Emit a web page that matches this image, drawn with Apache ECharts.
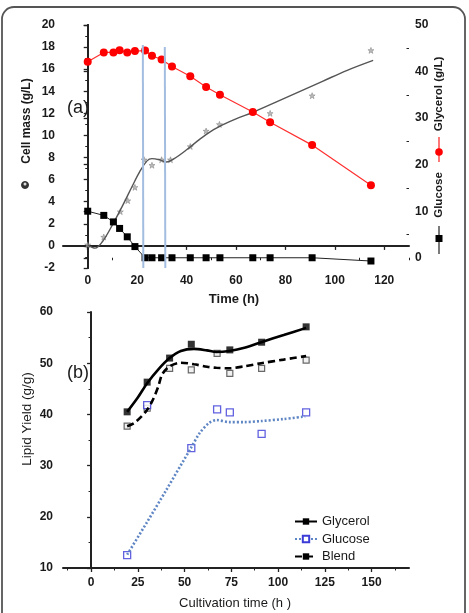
<!DOCTYPE html>
<html>
<head>
<meta charset="utf-8">
<script src="https://cdn.jsdelivr.net/npm/echarts@6/dist/echarts.min.js"></script>
<style>
html, body { margin: 0; padding: 0; background: #fff; }
#chartmain { width: 469px; height: 613px; }
</style>
</head>
<body>
<div id="chartmain"></div>
<script>
// (a) substrate and cell mass vs time
var time = [0, 6.5, 10.4, 12.9, 16, 19.1, 23.2, 26, 29.9, 34.1, 41.5, 47.9, 53.5, 66.8, 73.8, 90.8, 114.6];
var glycerol = [42.1, 44.1, 44.1, 44.6, 44.1, 44.4, 44.5, 43.4, 42.6, 41.1, 39.0, 36.7, 35.0, 31.3, 29.1, 24.2, 15.6];
var glucose = [10.0, 9.1, 7.7, 6.3, 4.5, 2.4, 0, 0, 0, 0, 0, 0, 0, 0, 0, 0, -0.7];

var cellTime = [0, 6.5, 13.2, 16.2, 19.1, 22.8, 26, 29.9, 33.5, 41.5, 47.9, 53.3, 73.8, 90.8, 114.6];
var cellMass = [0.1, 0.8, 3.1, 4.1, 5.3, 7.8, 7.3, 7.8, 7.8, 9.0, 10.4, 11.0, 12.0, 13.6, 17.7];

// fitted curve for cell mass
var fitTime = [0, 3, 6, 10, 14, 18, 21, 24, 26, 29, 32, 35, 40, 45, 50, 55, 60, 67, 75, 85, 95, 105, 115.5];
var fitMass = [0.1, -0.2, 0.4, 1.9, 3.6, 5.4, 6.7, 7.7, 7.9, 7.8, 7.6, 7.9, 8.7, 9.6, 10.4, 11.0, 11.5, 12.1, 12.9, 13.9, 14.9, 15.9, 16.8];

// blue phase markers
var phaseTime = [22.5, 31.4];
var phaseTop = [18.2, 18.0];

// (b) lipid yield
var yieldTime = [19.3, 30, 42, 53.6, 67.4, 74.2, 91.2, 115];
var glycerolYield = [40.5, 46.3, 51.0, 53.7, null, 52.6, 54.1, 57.1];
var glucoseYield = [12.5, 41.8, null, 33.4, 41.0, 40.4, 36.2, 40.4];
var blendYield = [37.7, 41.2, 49.0, 48.7, 51.9, 48.0, 49.0, 50.6];

var glycerolFitTime = [19.3, 25, 30, 36, 42, 48, 55, 62, 67, 74, 82, 91, 103, 115];
var glycerolFit = [40.5, 43.3, 46.1, 48.8, 51.0, 52.4, 52.8, 52.5, 52.2, 52.4, 53.0, 54.1, 55.5, 56.9];
var blendFitTime = [19.3, 23, 27, 30, 33, 36, 38, 42, 48, 55, 62, 67, 74, 82, 91, 103, 115];
var blendFit = [37.7, 38.3, 39.6, 40.9, 42.8, 45.5, 47.8, 49.4, 50.1, 49.8, 49.3, 49.1, 49.0, 49.4, 50.0, 50.7, 51.4];
var glucoseFitTime = [19.3, 30, 40, 53.5, 58, 63, 67, 74, 82, 91, 103, 114.5];
var glucoseFit = [12.6, 19.0, 25.1, 33.5, 36.3, 38.3, 38.9, 38.5, 38.5, 38.7, 39.1, 39.6];

// tick labels
var xTicksA = [0, 20, 40, 60, 80, 100, 120];
var xMinorA = [10, 30, 50, 70, 90, 110, 130];
var rTicksA = [0, 10, 20, 30, 40, 50];
var rMinorA = [5, 15, 25, 35, 45];
var xTicksB = [0, 25, 50, 75, 100, 125, 150];
var xMinorB = [-12.5, 12.5, 37.5, 62.5, 87.5, 112.5, 137.5, 162.5];

function pairs(xs, ys) {
    var out = [];
    for (var i = 0; i < xs.length; i++) {
        if (ys[i] !== null) out.push([xs[i], ys[i]]);
    }
    return out;
}

var axisColor = '#222';
var labelStyle = { color: '#1a1a1a', fontSize: 12, fontWeight: 'bold' };
var star = 'path://M12,1 L15,9 L23,9 L16.5,14 L19,22 L12,17 L5,22 L7.5,14 L1,9 L9,9 Z';
var font = 'Liberation Sans';

var phaseLines = [];
for (var i = 0; i < phaseTime.length; i++) {
    phaseLines.push([{ coord: [phaseTime[i], -2] }, { coord: [phaseTime[i] - 0.2, phaseTop[i]] }]);
}

function label(x, y, text, size, weight, rotate) {
    return {
        type: 'text', x: x, y: y, rotation: rotate ? Math.PI / 2 : 0,
        style: { text: text, fontSize: size, fontWeight: weight, fill: '#1a1a1a', align: 'center', verticalAlign: 'middle', fontFamily: font }
    };
}

var option = {
    animation: false,
    textStyle: { fontFamily: 'Liberation Sans, Arial, sans-serif' },
    grid: [
        { left: 63, top: 25, width: 346, height: 243 },
        { left: 63, top: 312, width: 346, height: 256 }
    ],
    xAxis: [
        {
            gridIndex: 0, type: 'value', position: 'bottom', min: -10, max: 130,
            splitLine: { show: false },
            axisLine: { lineStyle: { color: axisColor, width: 2 } },
            axisTick: { customValues: xTicksA, length: 4, lineStyle: { color: axisColor, width: 1.3 } },
            axisLabel: Object.assign({ customValues: xTicksA, margin: 7 }, labelStyle)
        },
        {
            gridIndex: 0, type: 'value', position: 'bottom', min: -10, max: 130,
            splitLine: { show: false }, axisLine: { show: false }, axisLabel: { show: false },
            axisTick: { customValues: xMinorA, length: 2.5, lineStyle: { color: axisColor } }
        },
        {
            gridIndex: 1, type: 'value', position: 'bottom', min: -15, max: 170,
            splitLine: { show: false },
            axisLine: { lineStyle: { color: axisColor, width: 2 } },
            axisTick: { customValues: xTicksB, length: 4, lineStyle: { color: axisColor, width: 1.3 } },
            axisLabel: Object.assign({ customValues: xTicksB, margin: 9 }, labelStyle)
        },
        {
            gridIndex: 1, type: 'value', position: 'bottom', min: -15, max: 170,
            splitLine: { show: false }, axisLine: { show: false }, axisLabel: { show: false },
            axisTick: { customValues: xMinorB, length: 2.5, lineStyle: { color: axisColor } }
        }
    ],
    yAxis: [
        {
            gridIndex: 0, type: 'value', position: 'left', min: -2, max: 20, interval: 2,
            splitLine: { show: false },
            axisLine: { show: true, lineStyle: { color: axisColor, width: 2 } },
            axisTick: { show: true, length: 4, lineStyle: { color: axisColor, width: 1.3 } },
            minorTick: { show: true, splitNumber: 2, length: 2.5, lineStyle: { color: axisColor } },
            axisLabel: Object.assign({ margin: 8 }, labelStyle)
        },
        {
            gridIndex: 0, type: 'value', position: 'right', min: -2.2, max: 50,
            splitLine: { show: false },
            axisLine: { show: true, lineStyle: { color: axisColor, width: 2 } },
            axisTick: { show: true, inside: true, customValues: rTicksA, length: 4, lineStyle: { color: axisColor, width: 1.3 } },
            axisLabel: Object.assign({ customValues: rTicksA, margin: 6 }, labelStyle)
        },
        {
            gridIndex: 0, type: 'value', position: 'right', min: -2.2, max: 50,
            splitLine: { show: false }, axisLine: { show: false }, axisLabel: { show: false },
            axisTick: { show: true, inside: true, customValues: rMinorA, length: 2.5, lineStyle: { color: axisColor } }
        },
        {
            gridIndex: 1, type: 'value', position: 'left', min: 10, max: 60, interval: 10,
            splitLine: { show: false },
            axisLine: { show: true, lineStyle: { color: axisColor, width: 2 } },
            axisTick: { show: true, length: 4, lineStyle: { color: axisColor, width: 1.3 } },
            minorTick: { show: true, splitNumber: 2, length: 2.5, lineStyle: { color: axisColor } },
            axisLabel: Object.assign({ margin: 10 }, labelStyle)
        }
    ],
    legend: {
        data: ['Glycerol', 'Glucose', 'Blend'],
        orient: 'vertical',
        left: 289, top: 510,
        itemWidth: 22, itemHeight: 8, itemGap: 4.5,
        textStyle: { fontSize: 13, color: '#1a1a1a' }
    },
    series: [
        // phase lines
        {
            type: 'line', xAxisIndex: 0, yAxisIndex: 0, data: [], silent: true,
            markLine: {
                symbol: 'none', silent: true, label: { show: false },
                lineStyle: { color: '#a3bde0', width: 2, type: 'solid' },
                data: phaseLines
            }
        },
        // cell mass fit
        {
            type: 'line', xAxisIndex: 0, yAxisIndex: 0, data: pairs(fitTime, fitMass),
            smooth: 0.35, showSymbol: false,
            lineStyle: { color: '#555', width: 1.4 }
        },
        {
            type: 'scatter', xAxisIndex: 0, yAxisIndex: 0, data: pairs(cellTime, cellMass),
            symbol: star, symbolSize: 6,
            itemStyle: { color: '#aaa', borderColor: '#777', borderWidth: 0.6 }
        },
        // glycerol (a)
        {
            type: 'line', xAxisIndex: 0, yAxisIndex: 1, data: pairs(time, glycerol),
            symbol: 'circle', symbolSize: 8,
            lineStyle: { color: '#ff3030', width: 1.2 },
            itemStyle: { color: '#ff0000' }
        },
        // glucose (a)
        {
            type: 'line', xAxisIndex: 0, yAxisIndex: 1, data: pairs(time, glucose),
            symbol: 'rect', symbolSize: 7,
            lineStyle: { color: '#222', width: 1 },
            itemStyle: { color: '#000' }
        },
        // (b) fitted curves
        {
            name: 'Glycerol', type: 'line', xAxisIndex: 2, yAxisIndex: 3,
            data: pairs(glycerolFitTime, glycerolFit),
            smooth: 0.3, showSymbol: false, symbol: 'rect', symbolSize: 7,
            lineStyle: { color: '#000', width: 2.6 },
            itemStyle: { color: '#000' }
        },
        {
            name: 'Glucose', type: 'line', xAxisIndex: 2, yAxisIndex: 3,
            data: pairs(glucoseFitTime, glucoseFit),
            smooth: 0.3, showSymbol: false, symbol: 'emptyRect', symbolSize: 7,
            lineStyle: { color: '#5f86c4', width: 2.6, type: [2, 2] },
            itemStyle: { color: '#3b3bd8', borderWidth: 1.2 }
        },
        {
            name: 'Blend', type: 'line', xAxisIndex: 2, yAxisIndex: 3,
            data: pairs(blendFitTime, blendFit),
            smooth: 0.3, showSymbol: false, symbol: 'rect', symbolSize: 7,
            lineStyle: { color: '#000', width: 2.6, type: [7, 4] },
            itemStyle: { color: '#000' }
        },
        // (b) measured points
        {
            type: 'scatter', xAxisIndex: 2, yAxisIndex: 3, data: pairs(yieldTime, glycerolYield),
            symbol: 'rect', symbolSize: 7, itemStyle: { color: '#000' }
        },
        {
            type: 'scatter', xAxisIndex: 2, yAxisIndex: 3, data: pairs(yieldTime, blendYield),
            symbol: 'rect', symbolSize: 6,
            itemStyle: { color: '#eee', borderColor: '#444', borderWidth: 1.2 }
        },
        {
            type: 'scatter', xAxisIndex: 2, yAxisIndex: 3, data: pairs(yieldTime, glucoseYield),
            symbol: 'rect', symbolSize: 7,
            itemStyle: { color: '#fff', borderColor: '#3b3bd8', borderWidth: 1.3 }
        }
    ],
    graphic: [
        // rounded frame
        {
            type: 'rect', shape: { x: 2, y: 7, width: 463, height: 630, r: 12 },
            style: { fill: 'none', stroke: '#555', lineWidth: 1.8 }, silent: true
        },
        label(78, 108, '(a)', 18, 'normal'),
        label(78, 373, '(b)', 18, 'normal'),
        label(27, 121, 'Cell mass (g/L)', 12, 'bold', true),
        { type: 'circle', shape: { cx: 25, cy: 185, r: 3.5 }, style: { fill: '#333', stroke: '#333' } },
        { type: 'circle', shape: { cx: 25, cy: 184, r: 1.5 }, style: { fill: '#ddd' } },
        label(234, 299, 'Time (h)', 13, 'bold'),
        // right axis title with line keys
        label(439, 94, 'Glycerol (g/L)', 11.6, 'bold', true),
        { type: 'line', shape: { x1: 439, y1: 137, x2: 439, y2: 162 }, style: { stroke: '#ff3030', lineWidth: 1.3 } },
        { type: 'circle', shape: { cx: 439, cy: 152, r: 3.8 }, style: { fill: '#ff0000' } },
        label(439, 195, 'Glucose', 11.6, 'bold', true),
        { type: 'line', shape: { x1: 439, y1: 226, x2: 439, y2: 254 }, style: { stroke: '#222', lineWidth: 1.2 } },
        { type: 'rect', shape: { x: 435.5, y: 235, width: 7, height: 7 }, style: { fill: '#000' } },
        label(27, 419, 'Lipid Yield (g/g)', 13.5, 'normal', true),
        label(235, 603, 'Cultivation time (h )', 13, 'normal')
    ]
};

var myChart = echarts.init(document.getElementById('chartmain'));
myChart.setOption(option);
</script>
</body>
</html>
